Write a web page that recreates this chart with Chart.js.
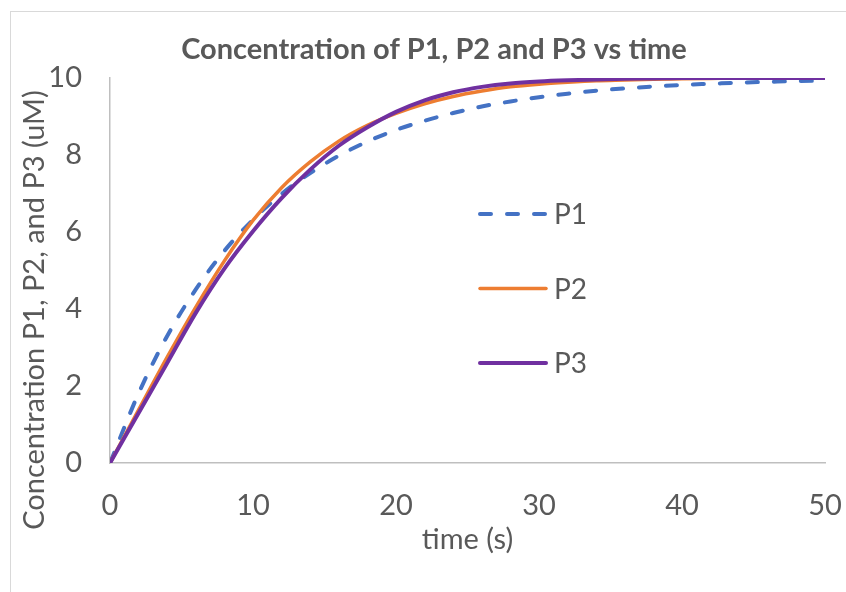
<!DOCTYPE html>
<html><head><meta charset="utf-8">
<script src="https://cdn.jsdelivr.net/npm/chart.js@4"></script>
<style>
html,body{margin:0;padding:0;background:#fff;overflow:hidden}
#wrap{position:relative;width:846px;height:592px;overflow:hidden}
#frame{position:absolute;left:10px;top:11px;width:860px;height:600px;border:1px solid #d9d9d9;box-sizing:border-box}
canvas{position:absolute;left:0;top:0}
</style></head>
<body><div id="wrap"><div id="frame"></div><canvas id="c" width="846" height="592" style="width:846px;height:592px"></canvas></div>
<script>
const chartTitle = 'Concentration of P1, P2 and P3 vs time';
const xTitle = 'time (s)';
const yTitle = 'Concentration P1, P2, and P3 (uM)';
const seriesNames = ['P1', 'P2', 'P3'];
const timeS = [0,2,4,6,8,10,12,14,16,18,20,22,24,26,28,30,32,34,36,38,40,42,44,46,48,50];
const p1 = [0,1.81,3.30,4.51,5.51,6.32,6.99,7.53,7.98,8.35,8.65,8.89,9.09,9.26,9.39,9.50,9.59,9.67,9.73,9.78,9.82,9.85,9.88,9.90,9.92,9.93];
const p2 = [0,1.38,2.75,4.05,5.25,6.30,7.15,7.82,8.36,8.77,9.08,9.33,9.52,9.66,9.77,9.84,9.89,9.93,9.95,9.97,9.98,9.99,10.0,10.0,10.0,10.0];
const p3 = [0,1.30,2.60,3.90,5.05,6.02,6.88,7.62,8.24,8.72,9.12,9.42,9.63,9.77,9.86,9.91,9.94,9.96,9.98,9.99,10.0,10.0,10.0,10.0,10.0,10.0];
const xTicks = [0,10,20,30,40,50];
const yTicks = [0,2,4,6,8,10];

const colors = ['#4472C4', '#ED7D31', '#7030A0'];
const TXT = '#595959';
const FONT = 'Lato, "Open Sans", sans-serif';

const seriesValues = [p1, p2, p3];
const datasets = seriesNames.map((name, i) => ({
  label: name,
  data: timeS.map((t, k) => ({x: t, y: seriesValues[i][k]})),
  borderColor: colors[i],
  backgroundColor: colors[i],
  borderWidth: i === 1 ? 3.5 : 4,
  borderDash: i === 0 ? [11, 16] : [],
  borderCapStyle: 'round',
  borderJoinStyle: 'round',
  pointRadius: 0,
  fill: false,
  tension: 0.4,
  cubicInterpolationMode: 'monotone',
  order: 3 - i
}));

const extras = {
  id: 'extras',
  afterDraw(chart) {
    const ctx = chart.ctx;
    ctx.save();
    ctx.translate(35, 310);
    ctx.rotate(-Math.PI / 2);
    ctx.fillStyle = TXT;
    ctx.font = '29px ' + FONT;
    ctx.textAlign = 'center';
    ctx.textBaseline = 'middle';
    ctx.fillText(yTitle, 0, 0);
    ctx.restore();
    ctx.save();
    chart.data.datasets.forEach((ds, i) => {
      const y = 214 + i * 74.5;
      ctx.beginPath();
      ctx.strokeStyle = ds.borderColor;
      ctx.lineWidth = ds.borderWidth;
      ctx.lineCap = 'round';
      ctx.setLineDash(ds.borderDash);
      ctx.moveTo(480, y);
      ctx.lineTo(546, y);
      ctx.stroke();
      ctx.setLineDash([]);
      ctx.fillStyle = TXT;
      ctx.font = '28px ' + FONT;
      ctx.textAlign = 'left';
      ctx.textBaseline = 'middle';
      ctx.fillText(ds.label, 554, y + 1);
    });
    ctx.restore();
  }
};

new Chart(document.getElementById('c'), {
  type: 'line',
  data: { datasets },
  options: {
    responsive: false,
    animation: false,
    devicePixelRatio: 1,
    layout: { padding: { left: 43, right: 21, top: 0, bottom: 0 } },
    plugins: {
      legend: { display: false },
      tooltip: { enabled: false },
      title: {
        display: true,
        text: chartTitle,
        color: TXT,
        font: { family: FONT, size: 29, weight: 'bold' },
        padding: { top: 32.6, bottom: 10.6 }
      }
    },
    scales: {
      x: {
        type: 'linear',
        min: xTicks[0],
        max: xTicks[xTicks.length - 1],
        afterBuildTicks: s => { s.ticks = xTicks.map(v => ({value: v})); },
        ticks: { color: TXT, font: { family: FONT, size: 29 }, padding: 17, maxRotation: 0 },
        grid: { display: false },
        border: { display: true, color: '#bfbfbf', width: 1.5 },
        title: { display: true, text: xTitle, color: TXT, font: { family: FONT, size: 29 }, padding: { top: 0, bottom: 34.6 } },
        afterFit: s => { s.height = 129; s.paddingRight = 0; s.paddingLeft = 0; }
      },
      y: {
        type: 'linear',
        min: yTicks[0],
        max: yTicks[yTicks.length - 1],
        afterBuildTicks: s => { s.ticks = yTicks.map(v => ({value: v})); },
        ticks: { color: TXT, font: { family: FONT, size: 29 }, padding: 20 },
        grid: { display: false },
        border: { display: true, color: '#bfbfbf', width: 1.5 },
        afterFit: s => { s.width = 67; }
      }
    }
  },
  plugins: [extras]
});
</script>
</body></html>
